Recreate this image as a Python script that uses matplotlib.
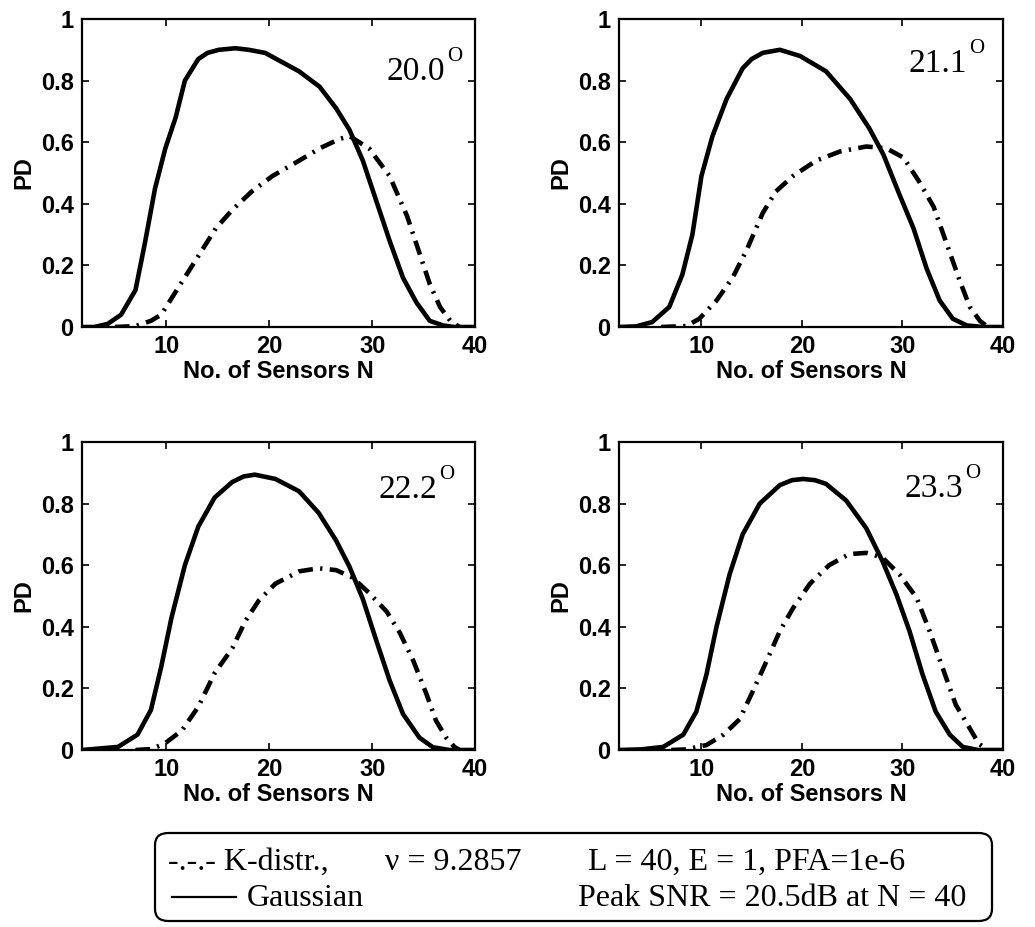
import matplotlib
matplotlib.use("Agg")
import matplotlib.pyplot as plt
from matplotlib.patches import FancyBboxPatch
from matplotlib.lines import Line2D

# ---------------- data ----------------
angle_labels = ["20.0", "21.1", "22.2", "23.3"]

# Panel 1 (20.0 deg)
n_gauss_1 = [1.8, 3.0, 4.3, 5.6, 7.0, 7.9, 8.9, 9.9, 10.9, 11.8, 13.1, 14.0, 15.1, 16.7, 18.0, 19.6, 22.9,
             24.9, 26.5, 27.8, 29.1, 30.4, 31.7, 33.0, 34.3, 35.6, 36.9, 38.0, 40.0]
pd_gauss_1 = [0.0, 0.0, 0.01, 0.04, 0.12, 0.27, 0.45, 0.58, 0.68, 0.80, 0.87, 0.89, 0.90, 0.905, 0.90, 0.89, 0.83,
              0.78, 0.71, 0.64, 0.54, 0.41, 0.28, 0.16, 0.08, 0.02, 0.005, 0.0, 0.0]
n_kdist_1 = [5.0, 7.0, 8.5, 9.5, 11.2, 13.1, 14.8, 16.4, 18.3, 20.3, 22.9, 24.9, 26.8, 27.8,
             29.7, 31.7, 33.4, 34.6, 35.6, 36.6, 37.6, 38.5]
pd_kdist_1 = [0.0, 0.003, 0.02, 0.04, 0.13, 0.23, 0.32, 0.38, 0.44, 0.49, 0.54, 0.58, 0.61, 0.62,
              0.58, 0.49, 0.36, 0.24, 0.14, 0.065, 0.02, 0.0]

# Panel 2 (21.1 deg)
n_gauss_2 = [1.8, 3.5, 5.1, 6.8, 8.1, 9.1, 10.0, 11.1, 12.5, 14.1, 15.0, 16.1, 17.8, 19.8, 22.4, 24.8,
             26.7, 28.1, 29.7, 31.1, 32.4, 33.7, 35.0, 36.4, 38.0, 40.0]
pd_gauss_2 = [0.0, 0.002, 0.016, 0.065, 0.17, 0.30, 0.49, 0.62, 0.74, 0.84, 0.87, 0.89, 0.90, 0.88, 0.83, 0.74,
              0.645, 0.56, 0.43, 0.32, 0.19, 0.086, 0.027, 0.005, 0.0, 0.0]
n_kdist_2 = [6.0, 8.5, 9.8, 11.5, 13.1, 14.5, 16.1, 17.4, 19.1, 21.4, 23.8, 26.4, 28.4, 30.1,
             31.7, 33.1, 34.4, 35.7, 36.7, 37.7, 38.5]
pd_kdist_2 = [0.0, 0.003, 0.027, 0.086, 0.16, 0.25, 0.37, 0.44, 0.49, 0.54, 0.57, 0.586, 0.58, 0.55,
              0.47, 0.39, 0.27, 0.15, 0.065, 0.02, 0.0]

# Panel 3 (22.2 deg)
n_gauss_3 = [1.8, 5.3, 7.2, 8.5, 9.5, 10.5, 11.8, 13.1, 14.7, 16.4, 17.5, 18.6, 20.6, 22.9, 24.8, 26.5,
             27.8, 29.1, 30.4, 31.7, 33.0, 34.6, 35.9, 37.5, 40.0]
pd_gauss_3 = [0.0, 0.01, 0.05, 0.13, 0.27, 0.43, 0.60, 0.725, 0.82, 0.87, 0.888, 0.894, 0.88, 0.84, 0.77, 0.68,
              0.595, 0.49, 0.356, 0.226, 0.117, 0.04, 0.009, 0.0, 0.0]
n_kdist_3 = [7.0, 8.5, 9.8, 11.5, 13.1, 14.7, 16.4, 17.7, 19.0, 20.6, 22.9, 24.8, 26.5, 28.1,
             29.7, 31.4, 32.7, 34.0, 35.3, 36.2, 37.2, 38.0, 38.5]
pd_kdist_3 = [0.0, 0.003, 0.02, 0.063, 0.14, 0.25, 0.33, 0.42, 0.486, 0.54, 0.58, 0.59, 0.584, 0.56,
              0.51, 0.45, 0.38, 0.29, 0.18, 0.096, 0.04, 0.01, 0.0]

# Panel 4 (23.3 deg)
n_gauss_4 = [1.8, 4.0, 6.2, 8.2, 9.5, 10.5, 11.5, 12.8, 14.1, 15.8, 17.8, 19.0, 20.1, 21.3, 22.4, 24.4, 26.4,
             28.0, 29.4, 30.7, 32.0, 33.3, 34.7, 36.0, 37.5, 40.0]
pd_gauss_4 = [0.0, 0.002, 0.01, 0.05, 0.125, 0.245, 0.40, 0.57, 0.70, 0.80, 0.86, 0.876, 0.88, 0.876, 0.864, 0.81, 0.72,
              0.614, 0.505, 0.386, 0.245, 0.125, 0.05, 0.01, 0.0, 0.0]
n_kdist_4 = [7.0, 8.5, 10.5, 12.2, 13.8, 15.1, 16.5, 17.8, 19.1, 20.8, 22.7, 24.7, 26.4, 28.0,
             29.7, 31.4, 32.7, 34.0, 35.3, 36.7, 37.6, 38.5]
pd_kdist_4 = [0.0, 0.002, 0.016, 0.05, 0.10, 0.19, 0.29, 0.386, 0.46, 0.54, 0.60, 0.636, 0.64, 0.625,
              0.57, 0.495, 0.386, 0.266, 0.147, 0.07, 0.02, 0.0]

x_ticks = [10, 20, 30, 40]
y_ticks = [0, 0.2, 0.4, 0.6, 0.8, 1.0]
y_tick_labels = ["0", "0.2", "0.4", "0.6", "0.8", "1"]

legend_kdist = "-.-.- K-distr.,"
legend_nu = "\u03bd = 9.2857"
legend_params = "L = 40, E = 1, PFA=1e-6"
legend_gauss = "Gaussian"
legend_snr = "Peak SNR = 20.5dB at N = 40"

panels = [
    (n_gauss_1, pd_gauss_1, n_kdist_1, pd_kdist_1),
    (n_gauss_2, pd_gauss_2, n_kdist_2, pd_kdist_2),
    (n_gauss_3, pd_gauss_3, n_kdist_3, pd_kdist_3),
    (n_gauss_4, pd_gauss_4, n_kdist_4, pd_kdist_4),
]

# ---------------- figure ----------------
W, H = 1035, 927
fig = plt.figure(figsize=(W / 100, H / 100), dpi=100)

# axes boxes in pixels (left, top, right, bottom)
boxes = [(82, 19, 475, 327), (619, 19, 1003, 327),
         (82, 442, 475, 750), (619, 442, 1003, 750)]
# angle label: digits' right edge offset from right spine (px), baseline offset below top (px)
label_pos = [(30, 61), (36, 53), (38, 56), (40, 55)]

sans = "Liberation Sans"
serif = "Liberation Serif"

for (l, t, r, b), (ng, pg, nk, pk), lab, (dx, dy) in zip(boxes, panels, angle_labels, label_pos):
    w, h = r - l, b - t
    ax = fig.add_axes([l / W, 1 - b / H, w / W, h / H])
    ax.plot(ng, pg, color="black", lw=3.3, solid_capstyle="round", solid_joinstyle="round")
    ax.plot(nk, pk, color="black", lw=3.3, linestyle=(0, (3.2, 1.6, 0.5, 1.6)),
            dash_capstyle="butt")
    ax.set_xlim(1.8, 40)
    ax.set_ylim(0, 1)
    ax.set_xticks(x_ticks)
    ax.set_yticks(y_ticks)
    ax.set_yticklabels(y_tick_labels)
    ax.tick_params(direction="in", length=5, width=1.2, top=True, right=True, pad=6)
    for lbl in ax.get_xticklabels() + ax.get_yticklabels():
        lbl.set_fontfamily(sans)
        lbl.set_fontweight("bold")
        lbl.set_fontsize(17)
    for sp in ax.spines.values():
        sp.set_linewidth(1.6)
    ax.set_xlabel("No. of Sensors N", fontfamily=sans, fontsize=17, fontweight="bold", labelpad=1)
    ax.set_ylabel("PD", fontfamily=sans, fontsize=17, fontweight="bold", labelpad=4)
    xr = 1 - dx / w
    yb = 1 - dy / h
    ax.text(xr, yb, lab, transform=ax.transAxes, ha="right", va="baseline",
            fontfamily=serif, fontsize=24)
    ax.text(xr + 2 / w, yb + 19 / h, "O", transform=ax.transAxes, ha="left", va="baseline",
            fontfamily=serif, fontsize=15)

# ---------------- legend box ----------------
bx0, by0, bx1, by1 = 155, 833, 992, 921
box = FancyBboxPatch((bx0 / W, 1 - by1 / H), (bx1 - bx0) / W, (by1 - by0) / H,
                     boxstyle="round,pad=0,rounding_size=0.013",
                     transform=fig.transFigure, fill=False, edgecolor="black", lw=1.6)
fig.patches.append(box)

fs_leg = 23
y1 = 1 - 870 / H
y2 = 1 - 906 / H
fig.text(168 / W, y1, legend_kdist, fontfamily=serif, fontsize=fs_leg, va="baseline")
fig.text(385 / W, y1, legend_nu, fontfamily=serif, fontsize=fs_leg, va="baseline")
fig.text(588 / W, y1, legend_params, fontfamily=serif, fontsize=fs_leg, va="baseline")
fig.lines.append(Line2D([172 / W, 236 / W], [1 - 897 / H, 1 - 897 / H], transform=fig.transFigure,
                        color="black", lw=1.6))
fig.text(247 / W, y2, legend_gauss, fontfamily=serif, fontsize=fs_leg, va="baseline")
fig.text(578 / W, y2, legend_snr, fontfamily=serif, fontsize=fs_leg, va="baseline")

fig.savefig("out.png", dpi=100)
